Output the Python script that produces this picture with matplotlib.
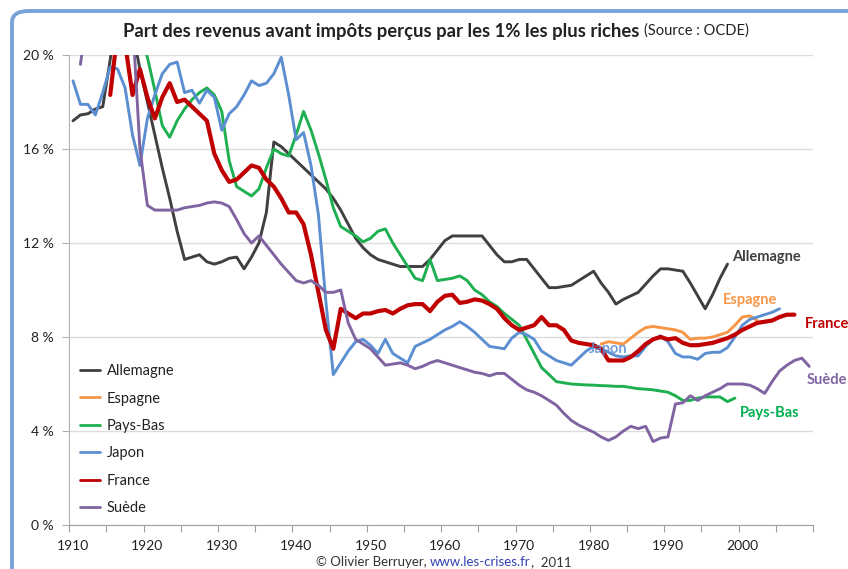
import numpy as np
import matplotlib
matplotlib.use('Agg')
from matplotlib import pyplot as plt
from matplotlib.patches import FancyBboxPatch

plt.rcParams['font.family'] = ['Lato', 'DejaVu Sans']

#--------------------------------- DATA ---------------------------------------------------------------
series_names = ['Allemagne', 'Espagne', 'Pays-Bas', 'Japon', 'France', 'Suède']

allemagne_years = list(range(1910, 1999))
allemagne = [17.2, 17.45, 17.5, 17.7, 17.8, 19.8, 22.0, 23.0, 21.0, 19.4,
             18.0, 16.6, 15.2, 13.9, 12.5, 11.3, 11.4, 11.5, 11.2, 11.1,
             11.2, 11.35, 11.4, 10.9, 11.4, 12.0, 13.3, 16.3, 16.1, 15.8,
             15.5, 15.2, 14.9, 14.6, 14.3, 13.9, 13.4, 12.8, 12.2, 11.8,
             11.5, 11.3, 11.2, 11.1, 11.0, 11.0, 11.0, 11.0, 11.3, 11.7,
             12.1, 12.3, 12.3, 12.3, 12.3, 12.3, 11.9, 11.5, 11.2, 11.2,
             11.3, 11.3, 10.9, 10.5, 10.1, 10.1, 10.15, 10.2, 10.4, 10.6,
             10.8, 10.3, 9.9, 9.4, 9.6, 9.75, 9.9, 10.25, 10.6, 10.9,
             10.9, 10.85, 10.8, 10.3, 9.75, 9.2, 9.8, 10.5, 11.1]

espagne_years = list(range(1981, 2003))
espagne = [7.7, 7.8, 7.75, 7.7, 7.95, 8.2, 8.4, 8.45, 8.4, 8.35,
           8.3, 8.2, 7.9, 7.95, 7.95, 8.0, 8.1, 8.2, 8.5, 8.85,
           8.9, 8.7]

paysbas_years = list(range(1915, 2000))
paysbas = [23.0, 24.0, 23.0, 22.0, 21.0, 19.9, 18.5, 17.0, 16.5, 17.2,
           17.7, 18.1, 18.4, 18.6, 18.3, 17.6, 15.5, 14.4, 14.2, 14.0,
           14.3, 15.2, 16.0, 15.8, 15.7, 16.6, 17.6, 16.8, 15.8, 14.7,
           13.5, 12.7, 12.5, 12.3, 12.05, 12.2, 12.5, 12.6, 12.0, 11.5,
           11.0, 10.5, 10.4, 11.3, 10.4, 10.45, 10.5, 10.6, 10.4, 10.0,
           9.8, 9.5, 9.3, 9.0, 8.75, 8.5, 7.9, 7.3, 6.7, 6.4,
           6.1, 6.05, 6.0, 5.98, 5.96, 5.95, 5.93, 5.92, 5.9, 5.9,
           5.85, 5.8, 5.78, 5.75, 5.7, 5.65, 5.5, 5.3, 5.3, 5.4,
           5.45, 5.45, 5.45, 5.25, 5.4]

japon_years = list(range(1910, 2006))
japon = [18.9, 17.9, 17.9, 17.45, 18.4, 19.5, 19.4, 18.6, 16.6, 15.3,
         17.3, 18.3, 19.2, 19.6, 19.7, 18.4, 18.5, 17.95, 18.5, 18.2,
         16.8, 17.5, 17.8, 18.3, 18.9, 18.7, 18.8, 19.2, 19.9, 18.3,
         16.4, 16.7, 15.3, 13.2, 9.5, 6.4, 6.9, 7.4, 7.8, 7.9,
         7.65, 7.3, 7.9, 7.3, 7.1, 6.9, 7.6, 7.75, 7.9, 8.1,
         8.3, 8.45, 8.65, 8.45, 8.2, 7.9, 7.6, 7.55, 7.5, 7.95,
         8.2, 8.1, 7.9, 7.4, 7.2, 7.0, 6.9, 6.8, 7.1, 7.4,
         7.6, 7.5, 7.35, 7.2, 7.15, 7.2, 7.2, 7.6, 7.9, 8.05,
         7.8, 7.3, 7.15, 7.15, 7.05, 7.3, 7.35, 7.35, 7.55, 8.0,
         8.5, 8.75, 8.85, 8.95, 9.05, 9.2]

france_years = list(range(1915, 2008))
france = [18.3, 21.0, 20.5, 18.3, 19.4, 18.2, 17.3, 18.2, 18.8, 18.0,
          18.1, 17.8, 17.5, 17.2, 15.8, 15.1, 14.6, 14.7, 15.0, 15.3,
          15.2, 14.7, 14.4, 13.9, 13.3, 13.3, 12.8, 11.5, 9.9, 8.3,
          7.5, 9.2, 9.0, 8.8, 9.0, 9.0, 9.1, 9.15, 9.0, 9.2,
          9.35, 9.4, 9.4, 9.1, 9.5, 9.75, 9.8, 9.45, 9.5, 9.6,
          9.55, 9.4, 9.2, 8.8, 8.5, 8.3, 8.4, 8.5, 8.85, 8.5,
          8.5, 8.3, 7.85, 7.75, 7.7, 7.65, 7.5, 7.0, 7.0, 7.0,
          7.15, 7.4, 7.7, 7.9, 8.0, 7.9, 7.95, 7.75, 7.65, 7.65,
          7.7, 7.75, 7.85, 7.95, 8.1, 8.3, 8.45, 8.6, 8.65, 8.7,
          8.85, 8.95, 8.95]

suede_years = list(range(1911, 2010))
suede = [19.6, 22.0, 23.0, 23.0, 24.0, 25.0, 24.0, 21.5, 16.0, 13.6,
         13.4, 13.4, 13.4, 13.4, 13.5, 13.55, 13.6, 13.7, 13.75, 13.7,
         13.55, 13.0, 12.4, 12.0, 12.3, 11.9, 11.5, 11.1, 10.75, 10.4,
         10.3, 10.4, 10.2, 9.9, 9.9, 10.0, 8.6, 7.9, 7.7, 7.5,
         7.15, 6.8, 6.85, 6.9, 6.8, 6.65, 6.75, 6.9, 7.0, 6.9,
         6.8, 6.7, 6.6, 6.5, 6.45, 6.35, 6.45, 6.45, 6.2, 5.95,
         5.75, 5.65, 5.5, 5.3, 5.1, 4.75, 4.45, 4.25, 4.1, 3.95,
         3.75, 3.6, 3.75, 4.0, 4.2, 4.1, 4.2, 3.55, 3.7, 3.75,
         5.15, 5.2, 5.5, 5.3, 5.5, 5.65, 5.8, 6.0, 6.0, 6.0,
         5.95, 5.8, 5.6, 6.1, 6.55, 6.8, 7.0, 7.1, 6.75]

yticks = [0, 4, 8, 12, 16, 20]
xlabels = list(range(1910, 2001, 10))

#--------------------------------- FIGURE -------------------------------------------------------------
W, H = 848, 569
fig = plt.figure(figsize=(W / 100, H / 100), dpi=100)
fig.patch.set_facecolor('white')

# rounded blue frame of the chart (runs off the right and bottom edges)
frame = FancyBboxPatch((12 / W, -30 / H), 1.3, (H - 11 + 30) / H,
                       boxstyle='round,pad=0,rounding_size=0.02',
                       transform=fig.transFigure, facecolor='none',
                       edgecolor='#79A3D8', linewidth=2.8, zorder=0)
fig.patches.append(frame)

ax = fig.add_axes([69.3 / W, 44 / H, (813 - 69.3) / W, (525 - 55) / H])
ax.set_xlim(1909.5, 2009.5)
ax.set_ylim(0, 20)

colors = {'Allemagne': '#404040', 'Espagne': '#F79646', 'Pays-Bas': '#1DAF50',
          'Japon': '#5B8FD2', 'France': '#C00000', 'Suède': '#8064A2'}
data = {'Allemagne': (allemagne_years, allemagne), 'Espagne': (espagne_years, espagne),
        'Pays-Bas': (paysbas_years, paysbas), 'Japon': (japon_years, japon),
        'France': (france_years, france), 'Suède': (suede_years, suede)}

for name in series_names:
    xs, ys = data[name]
    lw = 3.0 if name == 'France' else 2.1
    ax.plot(xs, ys, color=colors[name], lw=lw, label=name,
            solid_joinstyle='round', solid_capstyle='round')

# axes styling
for s in ['top', 'right']:
    ax.spines[s].set_visible(False)
ax.spines['left'].set_color('#B0B0B0')
ax.spines['bottom'].set_color('#A0A0A0')
ax.set_yticks(yticks)
ax.set_yticklabels(['%d %%' % v for v in yticks], fontsize=10, color='#222222')
ax.tick_params(axis='y', length=5, color='#B0B0B0', pad=6)
ax.yaxis.grid(True, color='#DCDCDC', lw=1)
ax.set_axisbelow(True)

ax.set_xticks(np.arange(1909.5, 2010, 5))
ax.set_xticklabels([])
ax.tick_params(axis='x', which='major', length=5, color='#A0A0A0')
ax.set_xticks(xlabels, minor=True)
ax.set_xticklabels([str(v) for v in xlabels], minor=True, fontsize=10, color='#222222')
ax.tick_params(axis='x', which='minor', length=0, pad=11)

leg = ax.legend(loc='upper left', bbox_to_anchor=(0.0, 0.364), frameon=False,
                fontsize=10.5, handlelength=1.4, handletextpad=0.45,
                labelspacing=0.92, borderaxespad=0.3)
for t in leg.get_texts():
    t.set_color('#222222')
for h in leg.get_lines():
    h.set_linewidth(2.0)

# end labels
lab = [('Allemagne', 1998.6, 11.4), ('Espagne', 1997.4, 9.57), ('France', 2008.4, 8.55),
       ('Suède', 2008.6, 6.17), ('Pays-Bas', 1999.7, 4.77), ('Japon', 1979.4, 7.49)]
for name, x, y in lab:
    ax.text(x, y, name, color=colors[name] if name != 'Pays-Bas' else '#00B050',
            fontsize=10.5, fontweight='bold', va='center', ha='left', clip_on=False,
            alpha=0.85 if name == 'Japon' else 1.0)

# title in two parts
fig.canvas.draw()
r = fig.canvas.get_renderer()
t1 = fig.text(123 / W, 1 - 31 / H, 'Part des revenus avant impôts perçus par les 1% les plus riches',
              fontsize=13.3, fontweight='bold', color='#222222', va='center', ha='left')
bb = t1.get_window_extent(renderer=r)
fig.text((bb.x1 + 5) / W, 1 - 31 / H, '(Source : OCDE)', fontsize=10.5,
         color='#222222', va='center', ha='left')

# credit line
y_c = 1 - 562 / H
c1 = fig.text(316 / W, y_c, '© Olivier Berruyer, ', fontsize=9.5, color='#333333', va='center')
bb = c1.get_window_extent(renderer=r)
c2 = fig.text(bb.x1 / W, y_c, 'www.les-crises.fr', fontsize=9.5, color='#3040B0', va='center')
bb = c2.get_window_extent(renderer=r)
fig.text(bb.x1 / W, y_c, ',  2011', fontsize=9.5, color='#333333', va='center')

plt.savefig('out.png', dpi=100, facecolor='white')
